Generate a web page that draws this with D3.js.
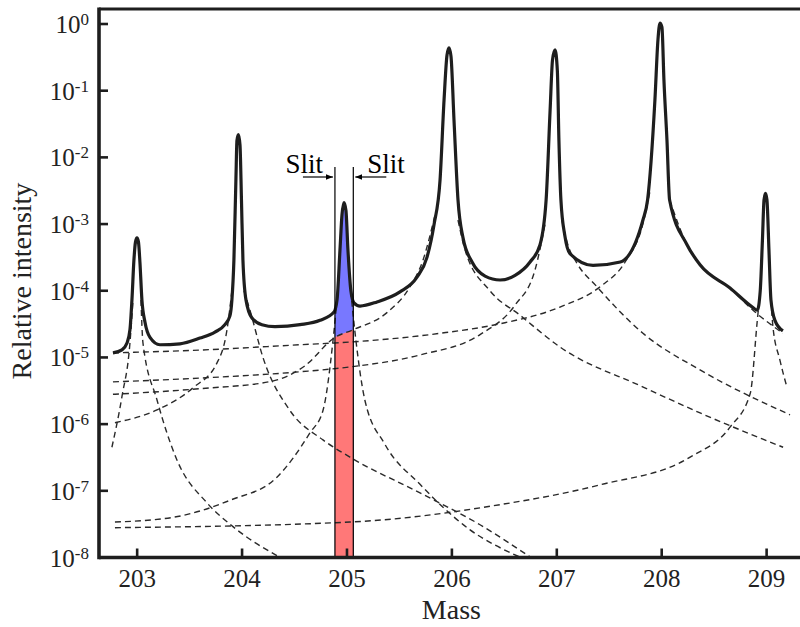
<!DOCTYPE html>
<html><head><meta charset="utf-8">
<script src="https://cdn.jsdelivr.net/npm/d3@7"></script>
<style>html,body{margin:0;padding:0;background:#fff;}svg{display:block;}</style>
</head><body>
<svg id="chart" width="800" height="627"></svg>
<script>
// ---- data: [mass, relative intensity] ----
const massTicks = [203, 204, 205, 206, 207, 208, 209];
const intensityExponents = [0, -1, -2, -3, -4, -5, -6, -7, -8];
const slitEdges = [204.89, 205.065];

const totalSpectrum = [
  [202.774,1.17e-5],[202.86,1.3e-5],[202.908,1.65e-5],[202.936,2.6e-5],[202.955,7.3e-5],[202.974,2.9e-4],
  [202.989,5.4e-4],[203.003,6.2e-4],[203.017,5.4e-4],[203.031,2.7e-4],[203.05,7.3e-5],[203.079,3.4e-5],
  [203.127,2.0e-5],[203.222,1.55e-5],[203.413,1.6e-5],[203.603,1.95e-5],[203.746,2.4e-5],[203.841,3.1e-5],
  [203.889,4.2e-5],[203.908,7.3e-5],[203.927,2.9e-4],[203.946,4.6e-3],[203.956,0.018],[203.97,0.022],
  [203.985,0.0154],[203.999,2.3e-3],[204.013,2.9e-4],[204.042,7.3e-5],[204.099,3.9e-5],[204.194,3.1e-5],
  [204.318,2.9e-5],[204.557,3.1e-5],[204.748,3.6e-5],[204.881,4.8e-5],[204.91,7.3e-5],[204.938,4.1e-4],
  [204.957,1.37e-3],[204.976,2.1e-3],[204.995,1.6e-3],[205.014,4.1e-4],[205.042,1.0e-4],[205.071,6.6e-5],
  [205.129,5.9e-5],[205.291,6.8e-5],[205.51,9.6e-5],[205.672,1.6e-4],[205.768,3.2e-4],[205.834,9.7e-4],
  [205.892,4.6e-3],[205.93,0.072],[205.958,0.34],[205.977,0.44],[205.996,0.33],[206.025,0.036],
  [206.063,2.3e-3],[206.111,6.2e-4],[206.197,2.7e-4],[206.321,1.66e-4],[206.464,1.45e-4],[206.607,1.7e-4],
  [206.75,2.7e-4],[206.845,4.9e-4],[206.903,2.3e-3],[206.941,0.051],[206.964,0.29],[206.988,0.41],
  [207.01,0.2],[207.025,0.018],[207.044,2.3e-3],[207.082,6.6e-4],[207.13,3.6e-4],[207.35,2.4e-4],
  [207.61,2.7e-4],[207.826,1.15e-3],[207.87,2.3e-3],[207.94,0.072],[207.969,0.58],[207.988,1.03],
  [208.007,0.9],[208.026,0.145],[208.055,0.018],[208.08,2.3e-3],[208.246,4.9e-4],[208.37,2.45e-4],
  [208.656,1.1e-4],[208.875,5.6e-5],[208.916,5.1e-5],[208.944,1.0e-4],[208.965,5.8e-4],[208.98,2.3e-3],
  [208.994,2.9e-3],[209.008,2.3e-3],[209.027,4.1e-4],[209.046,7.3e-5],[209.084,3.6e-5],[209.16,2.5e-5]
];

const tail203Left  = [[202.764,4.5e-7],[202.86,2.6e-6],[202.936,1.65e-5],[202.965,7.3e-5]];
const tail203Right = [[203.041,7.3e-5],[203.06,1.65e-5],[203.194,2.3e-6],[203.384,2.9e-7],[203.67,6.6e-8],[203.918,2.9e-8],[204.357,1.02e-8]];
const tail204Left  = [[202.793,1.05e-6],[203.194,1.63e-6],[203.537,3.5e-6],[203.766,8.3e-6],[203.861,2.6e-5],[203.908,1.0e-4]];
const tail204Right = [[204.023,1.0e-4],[204.08,5.1e-5],[204.204,1.0e-5],[204.461,1.6e-6],[204.776,5.8e-7],[205.033,3.2e-7],[205.701,9.3e-8],[206.273,3.1e-8],[206.75,1.02e-8]];
const tail205Left  = [[202.793,3.4e-8],[203.346,4.0e-8],[203.889,7.2e-8],[204.337,1.6e-7],[204.652,7.4e-7],[204.776,1.6e-6],[204.872,1.82e-5],[204.91,7.3e-5]];
const tail205Right = [[205.04,1.0e-4],[205.09,1.8e-5],[205.175,2.3e-6],[205.366,5.0e-7],[205.701,1.25e-7],[206.178,2.6e-8],[206.65,1.02e-8]];
const tail206Left  = [[202.774,2.8e-6],[203.603,3.4e-6],[204.29,4.4e-6],[204.604,7.5e-6],[204.89,2.0e-5],[205.062,2.6e-5],[205.386,4.7e-5],[205.606,1.15e-4],[205.73,2.9e-4],[205.844,1.37e-3]];
const tail206Right = [[206.063,1.15e-3],[206.13,4.1e-4],[206.368,1.0e-4],[206.654,4.3e-5],[207.036,1.43e-5],[207.828,3.6e-6],[208.371,1.47e-6],[209.162,4.5e-7]];
const tail207Left  = [[202.774,4.3e-6],[203.603,4.9e-6],[204.557,6.1e-6],[205.034,7.2e-6],[205.701,1.09e-5],[206.273,2.2e-5],[206.607,6.1e-5],[206.797,2.05e-4],[206.892,9.8e-4]];
const tail207Right = [[207.053,1.15e-3],[207.11,4.9e-4],[207.196,2.6e-4],[207.387,1.15e-4],[207.826,2.3e-5],[208.37,6.5e-6],[209.228,1.38e-6]];
const tail208Left  = [[202.774,1.17e-5],[203.603,1.29e-5],[204.557,1.55e-5],[205.034,1.7e-5],[205.892,2.3e-5],[206.464,3.2e-5],[207.036,5.7e-5],[207.418,1.15e-4],[207.656,2.7e-4],[207.828,1.04e-3],[207.895,3.2e-3]];
const tail208Right = [[208.08,2.3e-3],[208.246,4.9e-4],[208.37,2.45e-4],[208.656,1.1e-4],[208.875,5.1e-5],[209.161,2.3e-5]];
const tail209Left  = [[202.793,2.8e-8],[205.033,3.4e-8],[206.464,6.2e-8],[207.418,1.23e-7],[208.276,3.2e-7],[208.658,9.1e-7],[208.849,2.9e-6],[208.916,3.6e-5],[208.944,1.0e-4]];
const tail209Right = [[209.046,7.3e-5],[209.065,2.9e-5],[209.131,9.2e-6],[209.198,3.6e-6]];

const tails = [tail203Left, tail203Right, tail204Left, tail204Right, tail205Left, tail205Right,
  tail206Left, tail206Right, tail207Left, tail207Right, tail208Left, tail208Right, tail209Left, tail209Right];
const backgroundUnderSlit = tail206Left;

// ---- layout ----
const svg = d3.select("#chart");
const L = 99, R = 800, T = 9, B = 557.5;
const x = d3.scaleLinear().domain([202.641, 209.323]).range([L, R]);
const y = d3.scaleLog().domain([1e-8, Math.pow(10, 0.225)]).range([B, T]);
const ink = "#1e1e1e";
const serif = "'Liberation Serif','Times New Roman',serif";

const line = d3.line().x(d => x(d[0])).y(d => y(d[1])).curve(d3.curveMonotoneX);
const area = d3.area().x(d => x(d[0])).y0(B).y1(d => y(d[1])).curve(d3.curveMonotoneX);

const defs = svg.append("defs");
defs.append("clipPath").attr("id", "slitClip").append("rect")
  .attr("x", x(slitEdges[0])).attr("y", T).attr("width", x(slitEdges[1]) - x(slitEdges[0])).attr("height", B - T);
defs.append("clipPath").attr("id", "plotClip").append("rect")
  .attr("x", L).attr("y", T).attr("width", R - L).attr("height", B - T);

// fills in the slit
svg.append("path").datum(totalSpectrum).attr("d", area).attr("fill", "#7878ff").attr("clip-path", "url(#slitClip)");
svg.append("path").datum(backgroundUnderSlit).attr("d", area).attr("fill", "#ff7878").attr("clip-path", "url(#slitClip)");

// dashed tails
const g = svg.append("g").attr("clip-path", "url(#plotClip)");
g.selectAll("path.tail").data(tails).join("path").attr("class", "tail")
  .attr("d", line).attr("fill", "none").attr("stroke", "#2a2a2a")
  .attr("stroke-width", 1.4).attr("stroke-dasharray", "6,4");

// total
g.append("path").datum(totalSpectrum).attr("d", line).attr("fill", "none")
  .attr("stroke", ink).attr("stroke-width", 3.2).attr("stroke-linejoin", "round");

// slit lines
const slitTop = 167;
slitEdges.forEach(m => {
  svg.append("line").attr("x1", x(m)).attr("x2", x(m)).attr("y1", slitTop).attr("y2", B)
    .attr("stroke", "#000").attr("stroke-width", 1.2);
});
defs.append("marker").attr("id", "arrow").attr("viewBox", "0 0 10 10").attr("refX", 10).attr("refY", 5)
  .attr("markerWidth", 7).attr("markerHeight", 7).attr("orient", "auto-start-reverse")
  .attr("markerUnits", "userSpaceOnUse")
  .append("path").attr("d", "M0,1 L10,5 L0,9 Z").attr("fill", "#000");
const arrowY = 177;
svg.append("line").attr("x1", x(slitEdges[0]) - 32).attr("x2", x(slitEdges[0]) - 2).attr("y1", arrowY).attr("y2", arrowY)
  .attr("stroke", "#000").attr("stroke-width", 1.2).attr("marker-end", "url(#arrow)");
svg.append("line").attr("x1", x(slitEdges[1]) + 33).attr("x2", x(slitEdges[1]) + 2).attr("y1", arrowY).attr("y2", arrowY)
  .attr("stroke", "#000").attr("stroke-width", 1.2).attr("marker-end", "url(#arrow)");
svg.append("text").attr("x", x(slitEdges[0]) - 12).attr("y", 173).attr("text-anchor", "end")
  .attr("font-family", serif).attr("font-size", 27).attr("fill", "#000").text("Slit");
svg.append("text").attr("x", x(slitEdges[1]) + 14).attr("y", 173).attr("text-anchor", "start")
  .attr("font-family", serif).attr("font-size", 27).attr("fill", "#000").text("Slit");

// axes frame
svg.append("line").attr("x1", L).attr("x2", R).attr("y1", T).attr("y2", T).attr("stroke", ink).attr("stroke-width", 3.2);
svg.append("line").attr("x1", L).attr("x2", R).attr("y1", B).attr("y2", B).attr("stroke", ink).attr("stroke-width", 3.6);
svg.append("line").attr("x1", L).attr("x2", L).attr("y1", T - 1.6).attr("y2", B + 1.8).attr("stroke", ink).attr("stroke-width", 3.6);

// x ticks
const xAxis = d3.axisBottom(x).tickValues(massTicks).tickSize(0).tickFormat(d3.format("d"));
const xg = svg.append("g").attr("transform", `translate(0,${B})`).call(xAxis);
xg.select(".domain").remove();
xg.selectAll(".tick").append("line").attr("y1", 0).attr("y2", -9).attr("stroke", ink).attr("stroke-width", 2.6);
xg.selectAll(".tick text").attr("font-family", serif).attr("font-size", 25).attr("fill", "#222")
  .attr("y", 29).attr("dy", 0);

// y ticks
const yTickVals = intensityExponents.map(e => Math.pow(10, e));
const yg = svg.append("g");
yTickVals.forEach((v, i) => {
  const yy = y(v);
  if (i !== intensityExponents.length - 1) {
    yg.append("line").attr("x1", L).attr("x2", L + 9).attr("y1", yy).attr("y2", yy).attr("stroke", ink).attr("stroke-width", 2.6);
  }
  const t = yg.append("text").attr("x", 89).attr("y", yy + 9).attr("text-anchor", "end")
    .attr("font-family", serif).attr("font-size", 25).attr("fill", "#222");
  t.append("tspan").text("10");
  t.append("tspan").attr("font-size", 17).attr("dy", -8).text(String(intensityExponents[i]));
});

// axis titles
svg.append("text").attr("x", x(206)).attr("y", 619).attr("text-anchor", "middle")
  .attr("font-family", serif).attr("font-size", 28).attr("fill", "#222").text("Mass");
svg.append("text").attr("transform", "translate(31,281) rotate(-90)").attr("text-anchor", "middle")
  .attr("font-family", serif).attr("font-size", 28).attr("fill", "#222").text("Relative intensity");
</script>
</body></html>
